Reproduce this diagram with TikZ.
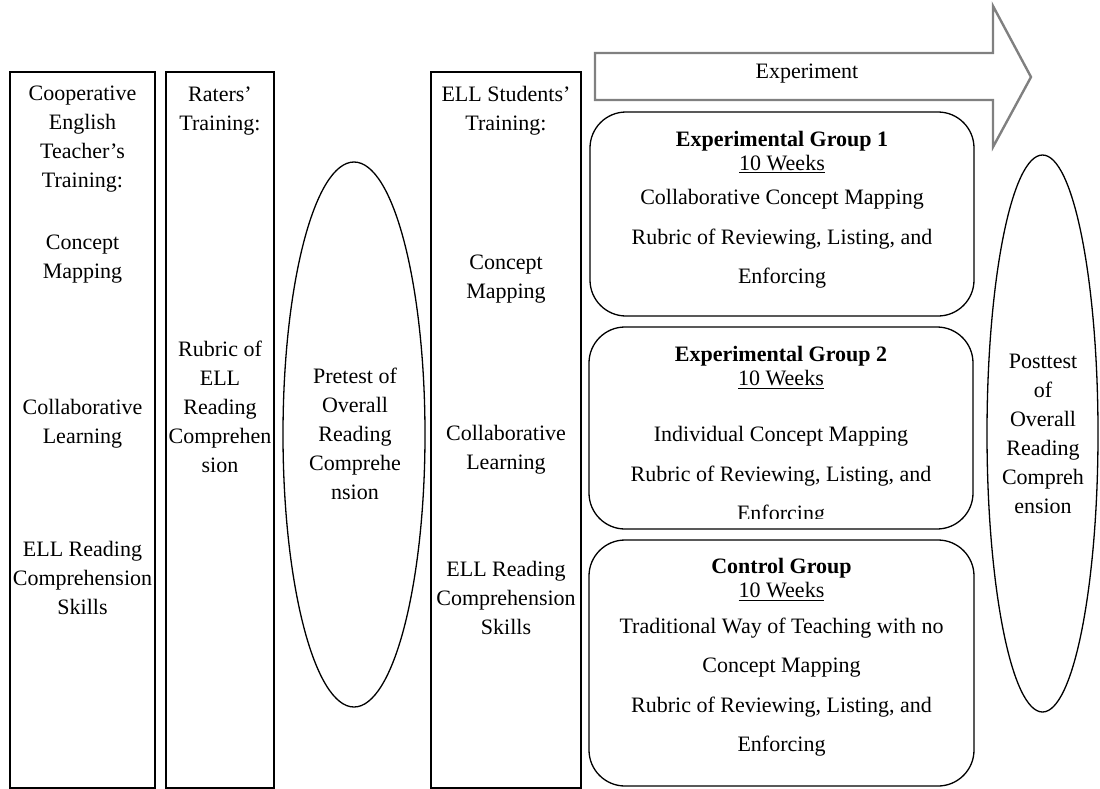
\documentclass[tikz,border=0pt]{standalone}
\usepackage{fontspec}
\setmainfont{Liberation Serif}
\usetikzlibrary{shapes.geometric}
\begin{document}
\begin{tikzpicture}[x=1pt,y=-1pt,
  col/.style={draw, line width=1.3pt, rectangle, inner sep=0pt},
  grp/.style={draw, line width=1.3pt, rectangle, rounded corners=36pt, inner sep=0pt},
  oval/.style={draw, line width=1.3pt, ellipse, inner sep=0pt},
  txt/.style={align=center, inner sep=0pt, font=\fontsize{22}{29}\selectfont},
  head/.style={align=center, inner sep=0pt, font=\fontsize{22}{24}\selectfont},
  body/.style={align=center, inner sep=0pt, font=\fontsize{22}{39.5}\selectfont}]
\useasboundingbox (0,0) rectangle (1100,788);
% columns
\node[col, minimum width=145pt, minimum height=716pt] (c1) at (82.5,430) {};
\node[col, minimum width=108pt, minimum height=716pt] (c2) at (220,430) {};
\node[col, minimum width=150pt, minimum height=716pt] (c3) at (506,430) {};
% ellipses
\node[oval, minimum width=142pt, minimum height=545pt] (pre) at (354,434.5) {};
\node[oval, minimum width=111pt, minimum height=557pt] (post) at (1042.5,433.5) {};
% groups
\node[grp, minimum width=384pt, minimum height=204pt] (g1) at (782,214) {};
\node[grp, minimum width=384pt, minimum height=202pt] (g2) at (781,428) {};
\node[grp, minimum width=385pt, minimum height=246pt] (g3) at (781.5,663) {};
% experiment arrow
\draw[line width=2.4pt, draw=black!50, line join=miter]
  (595,53) -- (993,53) -- (993,6) -- (1031,77) -- (993,147) -- (993,100) -- (595,100) -- cycle;
\node[txt] (exp) at (807,74) {Experiment};
% column texts
\node[txt] (c1a) at (82.5,139.5) {Cooperative\\English\\Teacher’s\\Training:};
\node[txt] (c1b) at (82.5,259.5) {Concept\\Mapping};
\node[txt] (c1c) at (82.5,423.5) {Collaborative\\Learning};
\node[txt] (c1d) at (82.5,578) {ELL Reading\\Comprehension\\Skills};
\node[txt] (c2a) at (220,111) {Raters’\\Training:};
\node[txt] (c2b) at (220,407) {Rubric of\\ELL\\Reading\\Comprehen\\sion};
\node[txt] (pret) at (355,434) {Pretest of\\Overall\\Reading\\Comprehe\\nsion};
\node[txt] (c3a) at (506,111) {ELL Students’\\Training:};
\node[txt] (c3b) at (506,279) {Concept\\Mapping};
\node[txt] (c3c) at (506,450) {Collaborative\\Learning};
\node[txt] (c3d) at (506,598) {ELL Reading\\Comprehension\\Skills};
\node[txt] (postt) at (1043,434) {Posttest\\of\\Overall\\Reading\\Compreh\\ension};
% group texts
\node[head] (g1h) at (782,152) {\textbf{Experimental Group 1}\\\underline{10 Weeks}};
\node[body] (g1b) at (782,239) {Collaborative Concept Mapping\\Rubric of Reviewing, Listing, and\\Enforcing};
\node[head] (g2h) at (781,367.5) {\textbf{Experimental Group 2}\\\underline{10 Weeks}};
\begin{scope}
\clip (580,330) rectangle (980,518);
\node[body] (g2b) at (781,476) {Individual Concept Mapping\\Rubric of Reviewing, Listing, and\\Enforcing};
\end{scope}
\node[head] (g3h) at (781.5,579.5) {\textbf{Control Group}\\\underline{10 Weeks}};
\node[body] (g3b) at (781.5,687) {Traditional Way of Teaching with no\\Concept Mapping\\Rubric of Reviewing, Listing, and\\Enforcing};
\end{tikzpicture}
\end{document}
